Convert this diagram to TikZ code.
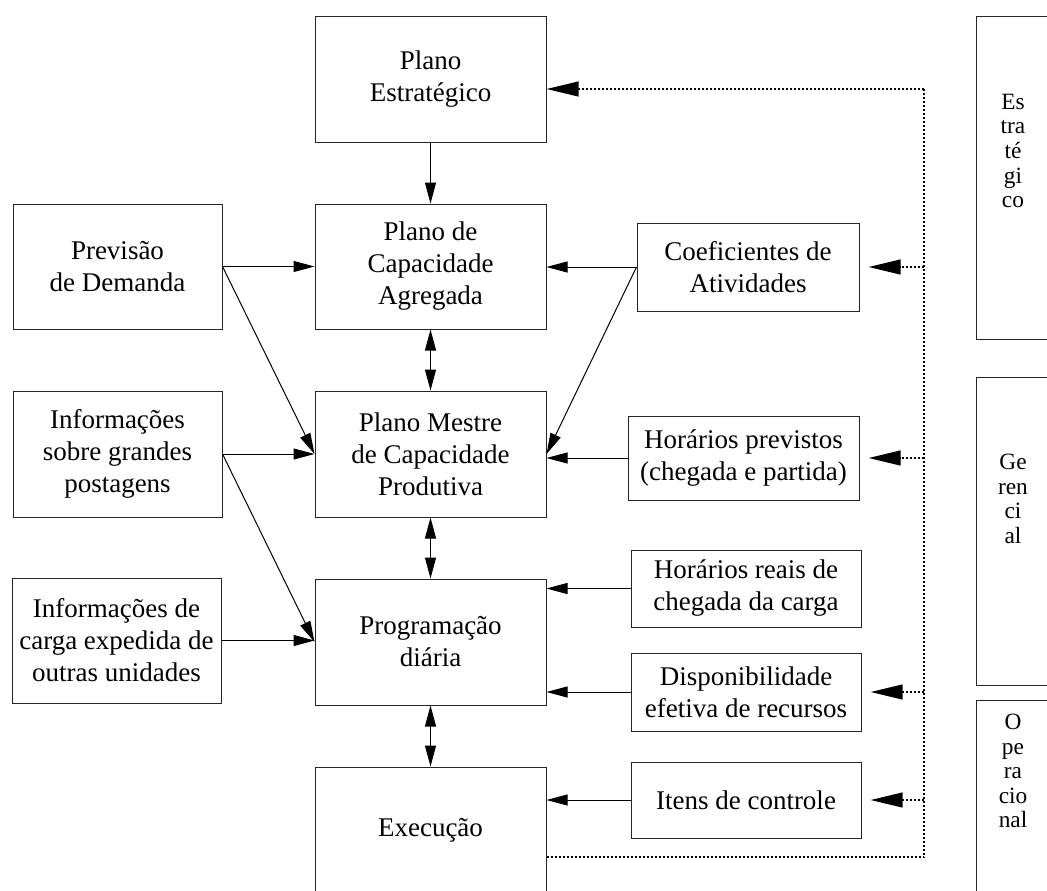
\documentclass[tikz,border=0pt]{standalone}
\usepackage{fontspec}
\setmainfont{Liberation Serif}
\usetikzlibrary{arrows.meta}

\begin{document}
\begin{tikzpicture}[x=0.75pt,y=-0.75pt,
  blk/.style={draw=black!85, line width=0.75pt, align=center, inner sep=0pt,
    font=\fontsize{20.25}{24}\selectfont},
  sz/.style 2 args={minimum width=#1*0.75pt, minimum height=#2*0.75pt},
  conn/.style={line width=0.75pt, -{Triangle[length=15.75pt,width=8.25pt]}},
  dconn/.style={line width=0.75pt,
    {Triangle[length=15.75pt,width=8.25pt]}-{Triangle[length=15.75pt,width=8.25pt]}},
  feedline/.style={line width=1.6pt, dash pattern=on 1.5pt off 1.5pt},
  feed/.style={feedline, -{Triangle[length=24pt,width=11pt]}},
  lvl/.style={draw=black!85, line width=0.75pt, inner sep=0pt},
  lvltext/.style={align=center, inner sep=0pt, font=\fontsize{17.5}{18.4}\selectfont}
]
\useasboundingbox (0,0) rectangle (1047,890);
\fill[white] (0,0) rectangle (1047,890);

% central chain of plans
\node[blk, sz={231}{126}] (est) at (430.5,79)   {Plano\\Estratégico};
\node[blk, sz={231}{125}] (agr) at (430.5,266.5) {Plano de\\Capacidade\\Agregada};
\node[blk, sz={231}{126}] (mes) at (430.5,454)  {Plano Mestre\\de Capacidade\\Produtiva};
\node[blk, sz={231}{126}] (prg) at (430.5,642)  {Programação\\diária};
\node[blk, sz={231}{126}] (exe) at (430.5,830)  {Execução};

% inputs on the left
\node[blk, sz={209}{125}] (prev) at (117.5,266.5) {Previsão\\de Demanda};
\node[blk, sz={209}{126}] (infg) at (117.5,454)   {Informações\\sobre grandes\\postagens};
\node[blk, sz={209}{125}] (infc) at (116.5,640.5) {Informações de\\carga expedida de\\outras unidades};

% inputs on the right
\node[blk, sz={222}{88}] (coef)  at (748,267)   {Coeficientes de\\Atividades};
\node[blk, sz={231}{84}] (hprev) at (743.5,458) {Horários previstos\\(chegada e partida)};
\node[blk, sz={230}{77}] (hreal) at (746,588.5) {Horários reais de\\chegada da carga};
\node[blk, sz={230}{78}] (disp)  at (746,692)   {Disponibilidade\\efetiva de recursos};
\node[blk, sz={230}{76}] (itens) at (746,800)   {Itens de controle};

% decision levels
\node[lvl, sz={76}{323}] (lest) at (1014,177.5) {};
\node[lvl, sz={76}{308}] (lger) at (1014,531)   {};
\node[lvl, sz={76}{200}] (lope) at (1014,800)   {};
\node[lvltext] (tlest) at (1013,151) {Es\\tra\\té\\gi\\co};
\node[lvltext] (tlger) at (1013,499) {Ge\\ren\\ci\\al};
\node[lvltext] (tlope) at (1013,771) {O\\pe\\ra\\cio\\nal};

% vertical flow
\draw[conn]  (est.south) -- (agr.north);
\draw[dconn] (agr.south) -- (mes.north);
\draw[dconn] (mes.south) -- (prg.north);
\draw[dconn] (prg.south) -- (exe.north);

% left inputs
\draw[conn] (prev.east) -- (prev.east -| agr.west);
\draw[conn] (prev.east) -- (mes.west);
\draw[conn] (infg.east) -- (infg.east -| mes.west);
\draw[conn] (infg.east) -- (prg.west);
\draw[conn] (infc.east) -- (infc.east -| prg.west);

% right inputs
\draw[conn] (coef.west) -- (coef.west -| agr.east);
\draw[conn] (coef.west) -- (mes.east);
\draw[conn] (hprev.west) -- (hprev.west -| mes.east);
\draw[conn] (hreal.west) -- (hreal.west -| prg.east);
\draw[conn] (disp.west) -- (disp.west -| prg.east);
\draw[conn] (itens.west) -- (itens.west -| exe.east);

% feedback loop
\coordinate (bustop) at (924,89);
\coordinate (busbot) at (924,857);
\draw[feedline] (exe.east |- busbot) -- (busbot) -- (bustop);
\draw[feed] (bustop) -- (bustop -| est.east);
\draw[feed] (bustop |- coef.east)  -- ([xshift=6.75pt]coef.east);
\draw[feed] (bustop |- hprev.east) -- ([xshift=6.75pt]hprev.east);
\draw[feed] (bustop |- disp.east)  -- ([xshift=6.75pt]disp.east);
\draw[feed] (bustop |- itens.east) -- ([xshift=6.75pt]itens.east);
\end{tikzpicture}
\end{document}
